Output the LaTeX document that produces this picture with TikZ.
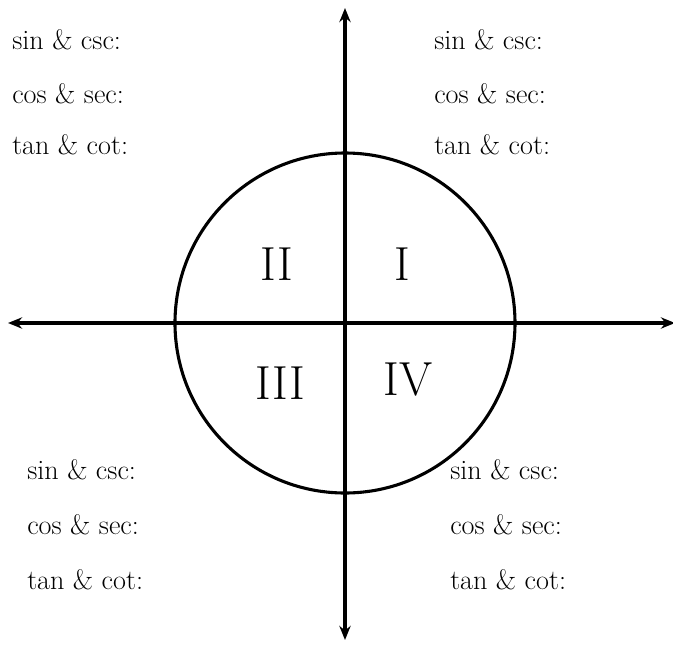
\documentclass[tikz,border=0pt]{standalone}
\usepackage{tikz}
\usetikzlibrary{arrows.meta}

\begin{document}
\begin{tikzpicture}[
          lbl/.style={anchor=west, inner sep=0pt, font=\fontsize{20}{24}\selectfont},
          quad/.style={inner sep=0pt, font=\fontsize{34}{40}\selectfont},
          axis/.style={{Stealth[length=10pt, width=8pt]}-{Stealth[length=10pt, width=8pt]}, line width=2.2pt}
        ]
        \useasboundingbox (-8.625,-8.05) rectangle (8.2,8.075);

        % Axes
        \coordinate (xl) at (-8.425, 0);
        \coordinate (xr) at (8.25, 0);
        \coordinate (yb) at (0, -7.925);
        \coordinate (yt) at (0, 7.875);
        \draw[axis] (xl) -- (xr);
        \draw[axis] (yb) -- (yt);

        % Circle
        \draw[line width=2.2pt] (0,0) circle (4.25);

        % Quadrant numerals
        \node[quad] (q1) at (1.425, 1.475) {I};
        \node[quad] (q2) at (-1.7, 1.475) {II};
        \node[quad] (q3) at (-1.625, -1.5) {III};
        \node[quad] (q4) at (1.575, -1.425) {IV};

        % Quadrant II labels
        \node[lbl] (tlsin) at (-8.325, 7.075) {sin \& csc:};
        \node[lbl] (tlcos) at (-8.325, 5.725) {cos \& sec:};
        \node[lbl] (tltan) at (-8.325, 4.45) {tan \& cot:};

        % Quadrant I labels
        \node[lbl] (trsin) at (2.225, 7.075) {sin \& csc:};
        \node[lbl] (trcos) at (2.225, 5.725) {cos \& sec:};
        \node[lbl] (trtan) at (2.225, 4.45) {tan \& cot:};

        % Quadrant III labels
        \node[lbl] (blsin) at (-7.95, -3.675) {sin \& csc:};
        \node[lbl] (blcos) at (-7.95, -5.05) {cos \& sec:};
        \node[lbl] (bltan) at (-7.95, -6.425) {tan \& cot:};

        % Quadrant IV labels
        \node[lbl] (brsin) at (2.625, -3.675) {sin \& csc:};
        \node[lbl] (brcos) at (2.625, -5.05) {cos \& sec:};
        \node[lbl] (brtan) at (2.625, -6.425) {tan \& cot:};
      \end{tikzpicture}
\end{document}
